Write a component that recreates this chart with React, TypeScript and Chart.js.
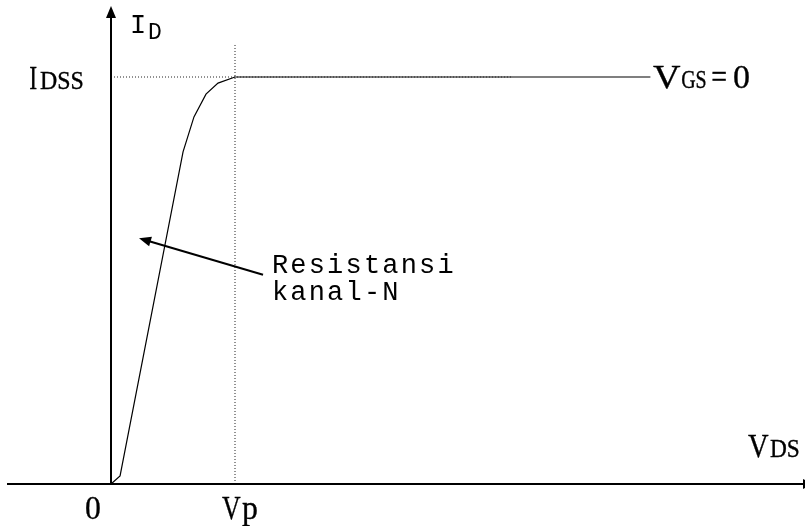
import React, { useEffect, useRef } from "react";
import { Chart, registerables } from "chart.js";

Chart.register(...registerables);

// Drain current I_D versus V_DS for V_GS = 0 (IDSS normalised to 10, Vp at 10)
const vdsValues = [0, 0.73, 5.81, 6.69, 7.66, 8.63, 10, 43.5];
const idValues = [0, 0.2, 8.16, 9.02, 9.58, 9.85, 10, 10];

// Reference levels
const idss = 10;
const vp = 10;
const idssGuideEnd = 32.3;
const vpGuideTop = 10.79;

// Visible window of the axes
const xRange = [-8.952, 55.968];
const yRange = [-1.032, 11.892];

// Text labels
const labelIdss = ["I", "DSS"];
const labelVgs = ["V", "GS", "=", "0"];
const labelVds = ["V", "DS"];
const labelOrigin = "0";
const labelVp = ["V", "p"];
const labelId = ["I", "D"];
const noteLines = ["Resistansi", "kanal-N"];

const SERIF = "'Liberation Serif', serif";
const MONO = "'Liberation Mono', 'Courier New', monospace";

const W = 805;
const H = 526;

const diagramPlugin = {
  id: "diagram",
  afterDatasetsDraw(chart: any) {
    const { ctx, scales } = chart;
    const xs = scales.x;
    const ys = scales.y;
    const px = (v: number) => xs.getPixelForValue(v);
    const py = (v: number) => ys.getPixelForValue(v);

    ctx.save();
    ctx.fillStyle = "#000";
    ctx.strokeStyle = "#000";

    // axes
    const ox = px(0);
    const oy = py(0);
    ctx.lineWidth = 2;
    ctx.beginPath();
    ctx.moveTo(px(xRange[0]) + 7, oy);
    ctx.lineTo(px(xRange[1]), oy);
    ctx.moveTo(ox, oy);
    ctx.lineTo(ox, 15);
    ctx.stroke();

    // y-axis arrowhead
    ctx.beginPath();
    ctx.moveTo(ox, 6);
    ctx.lineTo(ox - 5, 18);
    ctx.lineTo(ox + 5, 18);
    ctx.closePath();
    ctx.fill();

    // x-axis arrowhead (tip runs past the edge)
    ctx.beginPath();
    ctx.moveTo(W + 8, oy);
    ctx.lineTo(W - 2, oy - 5);
    ctx.lineTo(W - 2, oy + 5);
    ctx.closePath();
    ctx.fill();

    // pointer arrow toward the ohmic region
    const a0x = px(12.26), a0y = py(5.14);
    const a1x = px(2.26), a1y = py(6.04);
    const ang = Math.atan2(a1y - a0y, a1x - a0x);
    ctx.lineWidth = 2;
    ctx.beginPath();
    ctx.moveTo(a0x, a0y);
    ctx.lineTo(a1x - Math.cos(ang) * 8, a1y - Math.sin(ang) * 8);
    ctx.stroke();
    ctx.beginPath();
    ctx.moveTo(a1x, a1y);
    ctx.lineTo(a1x - Math.cos(ang) * 12 - Math.sin(ang) * 5, a1y - Math.sin(ang) * 12 + Math.cos(ang) * 5);
    ctx.lineTo(a1x - Math.cos(ang) * 12 + Math.sin(ang) * 5, a1y - Math.sin(ang) * 12 - Math.cos(ang) * 5);
    ctx.closePath();
    ctx.fill();

    ctx.textBaseline = "alphabetic";
    ctx.textAlign = "left";

    const big = `34px ${SERIF}`;
    const small = `25px ${SERIF}`;

    // draw a serif label so that its ink spans [left, right]
    const fit = (t: string, font: string, left: number, right: number, y: number) => {
      ctx.font = font;
      const m = ctx.measureText(t);
      const inkL = -m.actualBoundingBoxLeft;
      const inkW = m.actualBoundingBoxRight + m.actualBoundingBoxLeft;
      const sx = (right - left) / inkW;
      ctx.save();
      ctx.translate(left, y);
      ctx.scale(sx, 1);
      ctx.lineWidth = 0.35;
      ctx.fillText(t, -inkL, 0);
      ctx.strokeText(t, -inkL, 0);
      ctx.restore();
    };

    // IDSS
    fit(labelIdss[0], big, 30, 37, 89);
    fit(labelIdss[1], small, 40, 83, 89);

    // VGS = 0
    fit(labelVgs[0], big, 653, 681, 88);
    fit(labelVgs[1], small, 682, 706, 88);
    fit(labelVgs[2], big, 712, 726, 88);
    fit(labelVgs[3], big, 734, 749, 88);

    // VDS
    fit(labelVds[0], big, 748, 769, 457);
    fit(labelVds[1], small, 770, 799, 457);

    // 0 and Vp
    fit(labelOrigin, big, ox - 25, ox - 11, 519);
    fit(labelVp[0], big, 222, 241, 519);
    fit(labelVp[1], big, 242, 257, 519);

    // I_D
    ctx.font = `27px ${MONO}`;
    ctx.fillText(labelId[0], 130, 33);
    ctx.font = `23px ${MONO}`;
    ctx.fillText(labelId[1], 148, 39);

    // note, evenly spaced monospaced characters
    ctx.font = `27px ${MONO}`;
    ctx.textAlign = "center";
    const adv = 18.4;
    noteLines.forEach((line, li) => {
      const base = li === 0 ? 272.5 : 300;
      for (let i = 0; i < line.length; i++) {
        ctx.fillText(line[i], 280 + i * adv, base);
      }
    });

    ctx.restore();
  },
};

export default function App() {
  const ref = useRef<HTMLCanvasElement | null>(null);

  useEffect(() => {
    document.body.style.margin = "0";
    const canvas = ref.current;
    if (!canvas) return;

    const curve = vdsValues.map((x, i) => ({ x, y: idValues[i] }));

    const chart = new Chart(canvas, {
      type: "scatter",
      data: {
        datasets: [
          {
            data: [
              { x: 0, y: idss },
              { x: idssGuideEnd, y: idss },
            ],
            showLine: true,
            borderColor: "#222",
            borderWidth: 1,
            borderDash: [1, 2],
            pointRadius: 0,
          },
          {
            data: [
              { x: vp, y: 0 },
              { x: vp, y: vpGuideTop },
            ],
            showLine: true,
            borderColor: "#222",
            borderWidth: 1,
            borderDash: [1, 2],
            pointRadius: 0,
          },
          {
            data: curve,
            showLine: true,
            borderColor: "#000",
            borderWidth: 1.2,
            tension: 0,
            pointRadius: 0,
          },
        ],
      },
      options: {
        responsive: false,
        animation: false,
        events: [],
        layout: { padding: 0 },
        plugins: {
          legend: { display: false },
          tooltip: { enabled: false },
          title: { display: false },
        },
        scales: {
          x: { type: "linear", display: false, min: xRange[0], max: xRange[1] },
          y: { type: "linear", display: false, min: yRange[0], max: yRange[1] },
        },
      },
      plugins: [diagramPlugin],
    });

    return () => chart.destroy();
  }, []);

  return (
    <canvas
      ref={ref}
      width={W}
      height={H}
      style={{ display: "block", position: "absolute", left: 0, top: 0, background: "#fff" }}
    />
  );
}
